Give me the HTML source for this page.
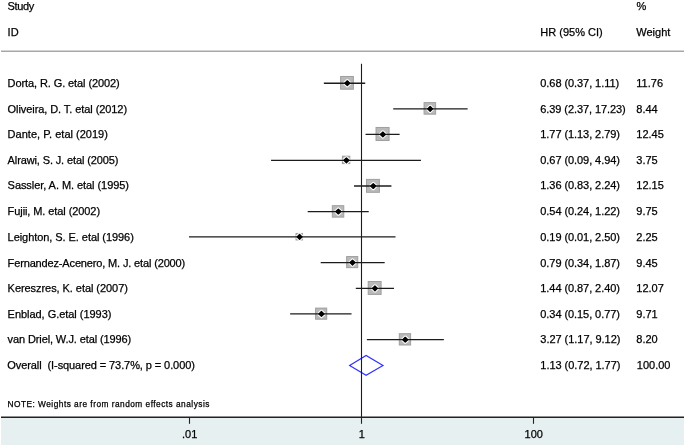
<!DOCTYPE html><html><head><meta charset="utf-8"><style>
html,body{margin:0;padding:0;background:#fff;}
svg{display:block;}
text{font-family:"Liberation Sans",sans-serif;fill:#000;stroke:#000;stroke-width:0.25px;will-change:transform;}
</style></head><body>
<svg width="685" height="446" viewBox="0 0 685 446">
<rect x="0" y="0" width="685" height="446" fill="#fff"/>
<rect x="1" y="418" width="683" height="27" fill="#e7f0f1"/>

<g font-size="11">
<text x="7.6" y="10" textLength="26.6">Study</text>
<text x="7.6" y="36">ID</text>
<text x="540.3" y="36">HR (95% CI)</text>
<text x="636.6" y="10">%</text>
<text x="636.3" y="36">Weight</text>
</g>
<line x1="1" y1="51.3" x2="684" y2="51.3" stroke="#a8a8a8" stroke-width="1.4"/>
<rect x="340.62" y="76.47" width="12.75" height="12.75" fill="#b9b9b9" stroke="#9f9f9f" stroke-width="1"/>
<path d="M344.80 83.24 L347.30 80.84 L349.80 83.24 L347.30 85.64 Z" fill="#fff" stroke="#fff" stroke-width="3.4" stroke-linejoin="round"/>
<line x1="323.87" y1="83.24" x2="365.20" y2="83.24" stroke="#1c1c1c" stroke-width="1.3"/>
<path d="M344.80 83.24 L347.30 80.84 L349.80 83.24 L347.30 85.64 Z" fill="#000" stroke="#000" stroke-width="1.3" stroke-linejoin="round"/>
<rect x="424.08" y="102.62" width="11.55" height="11.55" fill="#b9b9b9" stroke="#9f9f9f" stroke-width="1"/>
<path d="M427.65 108.86 L430.15 106.46 L432.65 108.86 L430.15 111.26 Z" fill="#fff" stroke="#fff" stroke-width="3.4" stroke-linejoin="round"/>
<line x1="393.23" y1="108.86" x2="467.62" y2="108.86" stroke="#1c1c1c" stroke-width="1.3"/>
<path d="M427.65 108.86 L430.15 106.46 L432.65 108.86 L430.15 111.26 Z" fill="#000" stroke="#000" stroke-width="1.3" stroke-linejoin="round"/>
<rect x="376.03" y="127.47" width="13.05" height="13.05" fill="#b9b9b9" stroke="#9f9f9f" stroke-width="1"/>
<path d="M380.35 134.47 L382.85 132.07 L385.35 134.47 L382.85 136.87 Z" fill="#fff" stroke="#fff" stroke-width="3.4" stroke-linejoin="round"/>
<line x1="365.56" y1="134.47" x2="399.62" y2="134.47" stroke="#1c1c1c" stroke-width="1.3"/>
<path d="M380.35 134.47 L382.85 132.07 L385.35 134.47 L382.85 136.87 Z" fill="#000" stroke="#000" stroke-width="1.3" stroke-linejoin="round"/>
<rect x="342.40" y="156.20" width="7.40" height="7.40" fill="#b9b9b9" stroke="#9f9f9f" stroke-width="1"/>
<path d="M343.90 160.34 L346.40 157.94 L348.90 160.34 L346.40 162.74 Z" fill="#fff" stroke="#fff" stroke-width="3.4" stroke-linejoin="round"/>
<line x1="271.06" y1="160.34" x2="420.96" y2="160.34" stroke="#1c1c1c" stroke-width="1.3"/>
<path d="M343.90 160.34 L346.40 157.94 L348.90 160.34 L346.40 162.74 Z" fill="#000" stroke="#000" stroke-width="1.3" stroke-linejoin="round"/>
<rect x="366.50" y="179.40" width="12.90" height="12.90" fill="#b9b9b9" stroke="#9f9f9f" stroke-width="1"/>
<path d="M370.75 186.01 L373.25 183.61 L375.75 186.01 L373.25 188.41 Z" fill="#fff" stroke="#fff" stroke-width="3.4" stroke-linejoin="round"/>
<line x1="354.04" y1="186.01" x2="391.42" y2="186.01" stroke="#1c1c1c" stroke-width="1.3"/>
<path d="M370.75 186.01 L373.25 183.61 L375.75 186.01 L373.25 188.41 Z" fill="#000" stroke="#000" stroke-width="1.3" stroke-linejoin="round"/>
<rect x="332.32" y="205.68" width="11.45" height="11.45" fill="#b9b9b9" stroke="#9f9f9f" stroke-width="1"/>
<path d="M335.85 211.53 L338.35 209.12 L340.85 211.53 L338.35 213.93 Z" fill="#fff" stroke="#fff" stroke-width="3.4" stroke-linejoin="round"/>
<line x1="307.70" y1="211.53" x2="368.73" y2="211.53" stroke="#1c1c1c" stroke-width="1.3"/>
<path d="M335.85 211.53 L338.35 209.12 L340.85 211.53 L338.35 213.93 Z" fill="#000" stroke="#000" stroke-width="1.3" stroke-linejoin="round"/>
<rect x="296.05" y="233.45" width="6.50" height="6.50" fill="#b9b9b9" stroke="#9f9f9f" stroke-width="1"/>
<path d="M297.10 236.89 L299.60 234.49 L302.10 236.89 L299.60 239.29 Z" fill="#fff" stroke="#fff" stroke-width="3.4" stroke-linejoin="round"/>
<line x1="189.00" y1="236.89" x2="395.52" y2="236.89" stroke="#1c1c1c" stroke-width="1.3"/>
<path d="M297.10 236.89 L299.60 234.49 L302.10 236.89 L299.60 239.29 Z" fill="#000" stroke="#000" stroke-width="1.3" stroke-linejoin="round"/>
<rect x="346.65" y="256.55" width="11.10" height="11.10" fill="#b9b9b9" stroke="#9f9f9f" stroke-width="1"/>
<path d="M350.00 262.56 L352.50 260.16 L355.00 262.56 L352.50 264.96 Z" fill="#fff" stroke="#fff" stroke-width="3.4" stroke-linejoin="round"/>
<line x1="320.71" y1="262.56" x2="384.68" y2="262.56" stroke="#1c1c1c" stroke-width="1.3"/>
<path d="M350.00 262.56 L352.50 260.16 L355.00 262.56 L352.50 264.96 Z" fill="#000" stroke="#000" stroke-width="1.3" stroke-linejoin="round"/>
<rect x="368.20" y="281.50" width="12.90" height="12.90" fill="#b9b9b9" stroke="#9f9f9f" stroke-width="1"/>
<path d="M372.45 288.38 L374.95 285.98 L377.45 288.38 L374.95 290.78 Z" fill="#fff" stroke="#fff" stroke-width="3.4" stroke-linejoin="round"/>
<line x1="355.80" y1="288.38" x2="394.00" y2="288.38" stroke="#1c1c1c" stroke-width="1.3"/>
<path d="M372.45 288.38 L374.95 285.98 L377.45 288.38 L374.95 290.78 Z" fill="#000" stroke="#000" stroke-width="1.3" stroke-linejoin="round"/>
<rect x="315.60" y="308.10" width="11.10" height="11.10" fill="#b9b9b9" stroke="#9f9f9f" stroke-width="1"/>
<path d="M318.95 313.94 L321.45 311.54 L323.95 313.94 L321.45 316.34 Z" fill="#fff" stroke="#fff" stroke-width="3.4" stroke-linejoin="round"/>
<line x1="290.14" y1="313.94" x2="351.54" y2="313.94" stroke="#1c1c1c" stroke-width="1.3"/>
<path d="M318.95 313.94 L321.45 311.54 L323.95 313.94 L321.45 316.34 Z" fill="#000" stroke="#000" stroke-width="1.3" stroke-linejoin="round"/>
<rect x="399.30" y="333.70" width="11.30" height="11.30" fill="#b9b9b9" stroke="#9f9f9f" stroke-width="1"/>
<path d="M402.75 339.71 L405.25 337.31 L407.75 339.71 L405.25 342.11 Z" fill="#fff" stroke="#fff" stroke-width="3.4" stroke-linejoin="round"/>
<line x1="366.86" y1="339.71" x2="443.86" y2="339.71" stroke="#1c1c1c" stroke-width="1.3"/>
<path d="M402.75 339.71 L405.25 337.31 L407.75 339.71 L405.25 342.11 Z" fill="#000" stroke="#000" stroke-width="1.3" stroke-linejoin="round"/>
<path d="M349.6 365.4 L366.1 355.4 L383.0 365.4 L366.1 375.3 Z" fill="none" stroke="#3030ff" stroke-width="1.15"/>
<line x1="361.5" y1="63.8" x2="361.5" y2="417" stroke="#1c1c1c" stroke-width="1.1"/>
<g font-size="11">
<text x="7.6" y="87" textLength="112.13">Dorta, R. G. etal (2002)</text>
<text x="540.3" y="87" textLength="78.81">0.68 (0.37, 1.11)</text>
<text x="636.3" y="87">11.76</text>
<text x="7.6" y="113" textLength="119.47">Oliveira, D. T. etal (2012)</text>
<text x="540.3" y="113" textLength="85.44">6.39 (2.37, 17.23)</text>
<text x="636.3" y="113">8.44</text>
<text x="7.6" y="138" textLength="100.29">Dante, P. etal (2019)</text>
<text x="540.3" y="138" textLength="79.63">1.77 (1.13, 2.79)</text>
<text x="636.3" y="138">12.45</text>
<text x="7.6" y="164" textLength="110.72">Alrawi, S. J. etal (2005)</text>
<text x="540.3" y="164" textLength="79.63">0.67 (0.09, 4.94)</text>
<text x="636.3" y="164">3.75</text>
<text x="7.6" y="189" textLength="121.39">Sassler, A. M. etal (1995)</text>
<text x="540.3" y="189" textLength="79.63">1.36 (0.83, 2.24)</text>
<text x="636.3" y="189">12.15</text>
<text x="7.6" y="215" textLength="92.46">Fujii, M. etal (2002)</text>
<text x="540.3" y="215" textLength="79.63">0.54 (0.24, 1.22)</text>
<text x="636.3" y="215">9.75</text>
<text x="7.6" y="241" textLength="126.21">Leighton, S. E. etal (1996)</text>
<text x="540.3" y="241" textLength="79.63">0.19 (0.01, 2.50)</text>
<text x="636.3" y="241">2.25</text>
<text x="7.6" y="267" textLength="177.61">Fernandez-Acenero, M. J. etal (2000)</text>
<text x="540.3" y="267" textLength="79.63">0.79 (0.34, 1.87)</text>
<text x="636.3" y="267">9.45</text>
<text x="7.6" y="292" textLength="120.27">Kereszres, K. etal (2007)</text>
<text x="540.3" y="292" textLength="79.63">1.44 (0.87, 2.40)</text>
<text x="636.3" y="292">12.07</text>
<text x="7.6" y="318" textLength="103.78">Enblad, G.etal (1993)</text>
<text x="540.3" y="318" textLength="79.63">0.34 (0.15, 0.77)</text>
<text x="636.3" y="318">9.71</text>
<text x="7.6" y="343" textLength="123.56">van Driel, W.J. etal (1996)</text>
<text x="540.3" y="343" textLength="80.13">3.27 (1.17, 9.12)</text>
<text x="636.3" y="343">8.20</text>
<text x="7.3" y="369" xml:space="preserve" textLength="187.58">Overall  (I-squared = 73.7%, p = 0.000)</text>
<text x="540.3" y="369" textLength="80.13">1.13 (0.72, 1.77)</text>
<text x="636.8" y="369">100.00</text>
</g>
<text x="7.5" y="407.3" font-size="8.3" textLength="201.90">NOTE: Weights are from random effects analysis</text>
<line x1="1" y1="417.2" x2="684" y2="417.2" stroke="#222" stroke-width="1.5"/>
<line x1="189.50" y1="417" x2="189.50" y2="423.8" stroke="#222" stroke-width="1.1"/>
<line x1="361.50" y1="417" x2="361.50" y2="423.8" stroke="#222" stroke-width="1.1"/>
<line x1="533.50" y1="417" x2="533.50" y2="423.8" stroke="#222" stroke-width="1.1"/>
<g font-size="11" text-anchor="middle">
<text x="189.70" y="438.3">.01</text>
<text x="361.70" y="438.3">1</text>
<text x="533.70" y="438.3">100</text>
</g>
</svg></body></html>
